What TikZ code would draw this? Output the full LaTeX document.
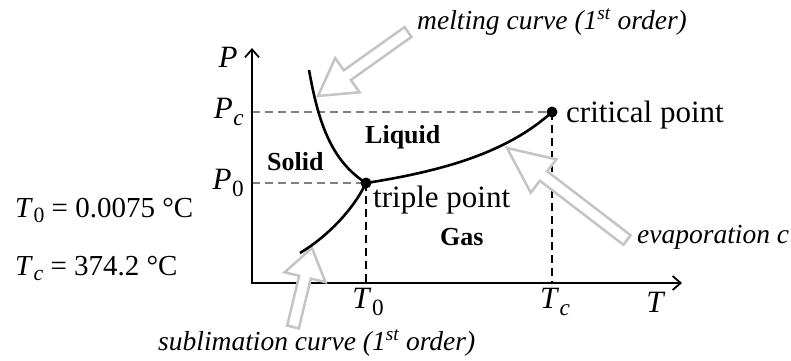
\documentclass[tikz,border=0pt]{standalone}
\usepackage{fontspec}
\setmainfont{Liberation Serif}
\usetikzlibrary{arrows.meta,calc}
\definecolor{arrowgray}{HTML}{C4C4C4}
\definecolor{guidegray}{HTML}{808080}
\newcommand\hollowarrow[3]{%
  \coordinate (ha-b) at ($(#2)!#3!(#1)$);
  \draw[hollow] (#2) -- ($(ha-b)!21pt!90:(#1)$) -- ($(ha-b)!6pt!90:(#1)$)
    -- ($(#1)!6pt!-90:(ha-b)$) -- ($(#1)!6pt!90:(ha-b)$)
    -- ($(ha-b)!6pt!-90:(#1)$) -- ($(ha-b)!21pt!-90:(#1)$) -- cycle;
}
\newcommand\qsym[2]{\textit{#1}\kern0.02em\raisebox{-0.2em}{\fontsize{0.75em}{0.8em}\selectfont #2}}
\begin{document}
\begin{tikzpicture}[x=1pt,y=-1pt,
  axis/.style={line width=2.4pt,-{Straight Barb[length=8pt,width=14pt,line width=1.8pt]}},
  hguide/.style={guidegray, dash pattern=on 8pt off 5pt, line width=2.4pt},
  vguide/.style={black, dash pattern=on 8pt off 5pt, line width=1.3pt},
  curve/.style={line width=2.6pt},
  dot/.style={circle,fill,inner sep=0pt,minimum size=11pt},
  lab/.style={font=\fontsize{31}{36}\selectfont, inner sep=0pt},
  phase/.style={font=\fontsize{26}{30}\selectfont\bfseries, inner sep=0pt},
  note/.style={font=\fontsize{27.5}{30}\selectfont\itshape, inner sep=0pt},
  mlab/.style={font=\fontsize{31}{34}\selectfont, inner sep=0pt},
  eq/.style={font=\fontsize{29}{32}\selectfont, inner sep=0pt},
  hollow/.style={draw=arrowgray, line width=2.5pt, fill=white, line join=miter}
]
\useasboundingbox (0,0) rectangle (791,360);
\clip (0,0) rectangle (791,360);

% key points
\coordinate (O) at (252,283);
\coordinate (Xend) at (682,283);
\coordinate (Yend) at (252,48);
\coordinate (tp) at (366,183);
\coordinate (cp) at (552,112);
\coordinate (Pc) at (252,112);
\coordinate (P0) at (252,183);
\coordinate (T0) at (366,283);
\coordinate (Tc) at (552,283);
\coordinate (mtop) at (309,70);
\coordinate (sbot) at (300,253);

% guides
\draw[hguide] (Pc) -- (cp);
\draw[hguide] (P0) -- (tp);
\draw[vguide] (tp) -- (T0);
\draw[vguide] (cp) -- (Tc);

% axes
\draw[axis] (O) -- (Xend);
\draw[axis] ([yshift=-1.2pt]O) -- (Yend);

% hollow arrows
\coordinate (ma-tail) at (408,32);
\coordinate (ma-tip) at (318,96);
\coordinate (sa-tail) at (293,327);
\coordinate (sa-tip) at (312,248);
\coordinate (ea-tail) at (627,240);
\coordinate (ea-tip) at (507,148);
\hollowarrow{ma-tail}{ma-tip}{36pt}
\hollowarrow{sa-tail}{sa-tip}{30pt}
\hollowarrow{ea-tail}{ea-tip}{46pt}

% phase boundaries
\draw[curve] (mtop) .. controls (318,120) and (330,160) .. (tp);
\draw[curve] (sbot) .. controls (325,238) and (352,212) .. (tp);
\draw[curve] (tp) .. controls (450,170) and (510,150) .. (cp);
\node[dot] (tpdot) at (tp) {};
\node[dot] (cpdot) at (cp) {};

% axis labels
\node[mlab] (Plab) at (228,57) {\textit{P}};
\node[mlab, anchor=east] (Pclab) at (244,112) {\qsym{P}{\textit{c}}};
\node[mlab, anchor=east] (P0lab) at (244,183) {\qsym{P}{0}};
\node[mlab] (T0lab) at (368,302) {\qsym{T}{0}};
\node[mlab] (Tclab) at (555,302) {\qsym{T}{\textit{c}}};
\node[mlab] (Tlab) at (656,302) {\textit{T}};

% region and point labels
\node[phase, anchor=base west] (solid) at (267,170) {Solid};
\node[phase, anchor=base west] (liquid) at (365,143) {Liquid};
\node[phase, anchor=base west] (gas) at (440,245) {Gas};
\node[lab, anchor=base west] (tplab) at (373,207) {triple point};
\node[lab, anchor=base west] (cplab) at (566,122) {critical point};

% notes
\node[note, anchor=base west] (mnote) at (417,29) {melting curve (1\textsuperscript{st} order)};
\node[note, anchor=base west] (snote) at (158,350) {sublimation curve (1\textsuperscript{st} order)};
\node[note, anchor=base west] (enote) at (637,243) {evaporation c};

% constants
\node[eq, anchor=base west] (eq0) at (15,217) {\qsym{T}{0} = 0.0075 °C};
\node[eq, anchor=base west] (eqc) at (15,275) {\qsym{T}{\textit{c}} = 374.2 °C};
\end{tikzpicture}
\end{document}
